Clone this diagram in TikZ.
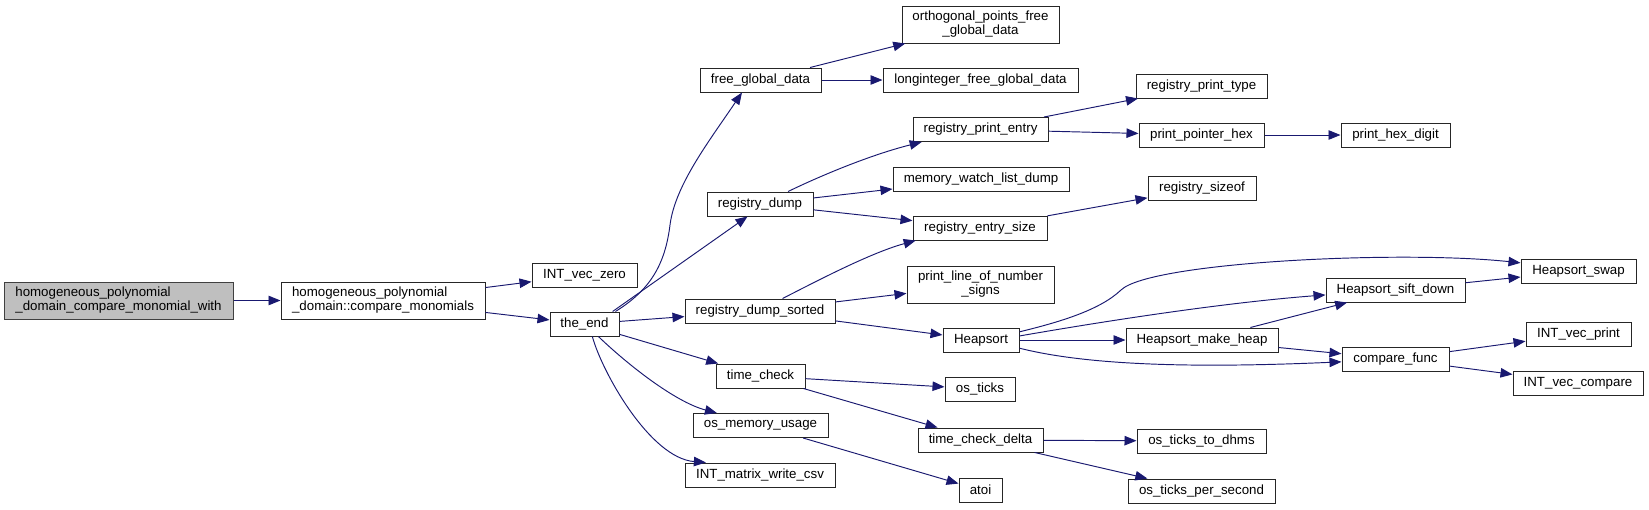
\documentclass[tikz,border=0pt]{standalone}
\usepackage{fontspec}
\setmainfont{Liberation Sans}
\usetikzlibrary{arrows.meta}
\definecolor{edgeblue}{HTML}{191970}
\definecolor{rootfill}{HTML}{BFBFBF}
\newcommand\nodefont{\fontsize{13.3}{14}\selectfont}
\tikzset{
  fn/.style={draw=black!85, line width=1pt, fill=white, inner sep=0pt, font=\nodefont, text=black, align=center, minimum height=24pt},
  fn2/.style={fn, minimum height=37pt},
  rootbox/.style={fn2, fill=rootfill, draw=black!75, align=left},
  call/.style={draw=edgeblue, line width=0.95pt, -{Triangle[length=12pt,width=9.5pt]}},
}
\begin{document}
\begin{tikzpicture}[x=1pt,y=-1pt]
\useasboundingbox (0,0) rectangle (1649,509);
% nodes
\node[rootbox, minimum width=229pt] (root) at (118.5,300.5) {homogeneous\_polynomial\\\_domain\_compare\_monomial\_with};
\node[fn2, align=left, minimum width=204pt] (cmp) at (383,300.5) {homogeneous\_polynomial\\\_domain::compare\_monomials};
\node[fn, minimum width=105pt] (ivz) at (584.5,275) {INT\_vec\_zero};
\node[fn, minimum width=69pt] (the_end) at (584.5,324) {the\_end};
\node[fn, minimum width=121pt] (fgd) at (760.5,80) {free\_global\_data};
\node[fn2, minimum width=157pt] (opf) at (980.5,24.5) {orthogonal\_points\_free\\\_global\_data};
\node[fn, minimum width=195pt] (lfg) at (980.5,80) {longinteger\_free\_global\_data};
\node[fn, minimum width=106pt] (rd) at (760,204) {registry\_dump};
\node[fn, minimum width=135pt] (rpe) at (980.5,129.5) {registry\_print\_entry};
\node[fn, minimum width=176pt] (mwl) at (981,179) {memory\_watch\_list\_dump};
\node[fn, minimum width=134pt] (res) at (980,228) {registry\_entry\_size};
\node[fn, minimum width=131pt] (rpt) at (1201.5,86) {registry\_print\_type};
\node[fn, minimum width=125pt] (pph) at (1201.5,135) {print\_pointer\_hex};
\node[fn, minimum width=109pt] (phd) at (1395.5,135) {print\_hex\_digit};
\node[fn, minimum width=108pt] (rso) at (1202,188) {registry\_sizeof};
\node[fn, minimum width=150pt] (rds) at (760,311) {registry\_dump\_sorted};
\node[fn2, minimum width=147pt] (pln) at (980.5,284.5) {print\_line\_of\_number\\\_signs};
\node[fn, minimum width=76pt] (hs) at (981,340) {Heapsort};
\node[fn, minimum width=152pt] (hmh) at (1202,340) {Heapsort\_make\_heap};
\node[fn, minimum width=139pt] (hsd) at (1395.5,290) {Heapsort\_sift\_down};
\node[fn, minimum width=115pt] (hsw) at (1578.5,271) {Heapsort\_swap};
\node[fn, minimum width=107pt] (cf) at (1395.5,359) {compare\_func};
\node[fn, minimum width=105pt] (ivp) at (1578.5,334) {INT\_vec\_print};
\node[fn, minimum width=130pt] (ivc) at (1578,383) {INT\_vec\_compare};
\node[fn, minimum width=89pt] (tc) at (760.5,376) {time\_check};
\node[fn, minimum width=70pt] (ost) at (980,389) {os\_ticks};
\node[fn, minimum width=125pt] (tcd) at (980.5,440) {time\_check\_delta};
\node[fn, minimum width=129pt] (otd) at (1201.5,441) {os\_ticks\_to\_dhms};
\node[fn, minimum width=147pt] (otp) at (1201.5,491) {os\_ticks\_per\_second};
\node[fn, minimum width=135pt] (omu) at (760.5,425.5) {os\_memory\_usage};
\node[fn, minimum width=150pt] (imw) at (760,475) {INT\_matrix\_write\_csv};
\node[fn, minimum width=43pt] (atoi) at (980.5,490) {atoi};
% edges
\draw[call] (root) -- (cmp);
\draw[call] (cmp) -- (ivz);
\draw[call] (cmp) -- (the_end);
\draw[call] (the_end.22) .. controls (650,290) and (665,265) .. (670,225) .. controls (675,185) and (710,140) .. (fgd.214);
\draw[call] (the_end.24) -- (rd.225);
\draw[call] (the_end) -- (rds);
\draw[call] (the_end) -- (tc);
\draw[call] (the_end.-42) .. controls (627,364) and (675,402) .. (omu.164);
\draw[call] (the_end.-58) .. controls (602,372) and (650,458) .. (imw.167);
\draw[call] (fgd) -- (opf);
\draw[call] (fgd) -- (lfg);
\draw[call] (rd.24) .. controls (820,176) and (870,155) .. (rpe.192);
\draw[call] (rd) -- (mwl);
\draw[call] (rd) -- (res);
\draw[call] (rds.29) .. controls (815,282) and (870,253) .. (res.191);
\draw[call] (rds) -- (pln);
\draw[call] (rds) -- (hs);
\draw[call] (rpe) -- (rpt);
\draw[call] (rpe) -- (pph);
\draw[call] (pph) -- (phd);
\draw[call] (res) -- (rso);
\draw[call] (hs.12) .. controls (1060,322) and (1100,310) .. (1121,290) .. controls (1150,262) and (1400,250) .. (hsw.172);
\draw[call] (hs.6) .. controls (1100,322) and (1220,303) .. (hsd.184);
\draw[call] (hs) -- (hmh);
\draw[call] (hs.-12) .. controls (1090,366) and (1200,368) .. (cf.183);
\draw[call] (hmh) -- (hsd);
\draw[call] (hmh) -- (cf);
\draw[call] (hsd) -- (hsw);
\draw[call] (cf) -- (ivp);
\draw[call] (cf) -- (ivc);
\draw[call] (tc) -- (ost);
\draw[call] (tc) -- (tcd);
\draw[call] (tcd) -- (otd);
\draw[call] (tcd) -- (otp);
\draw[call] (omu) -- (atoi);
\end{tikzpicture}
\end{document}
